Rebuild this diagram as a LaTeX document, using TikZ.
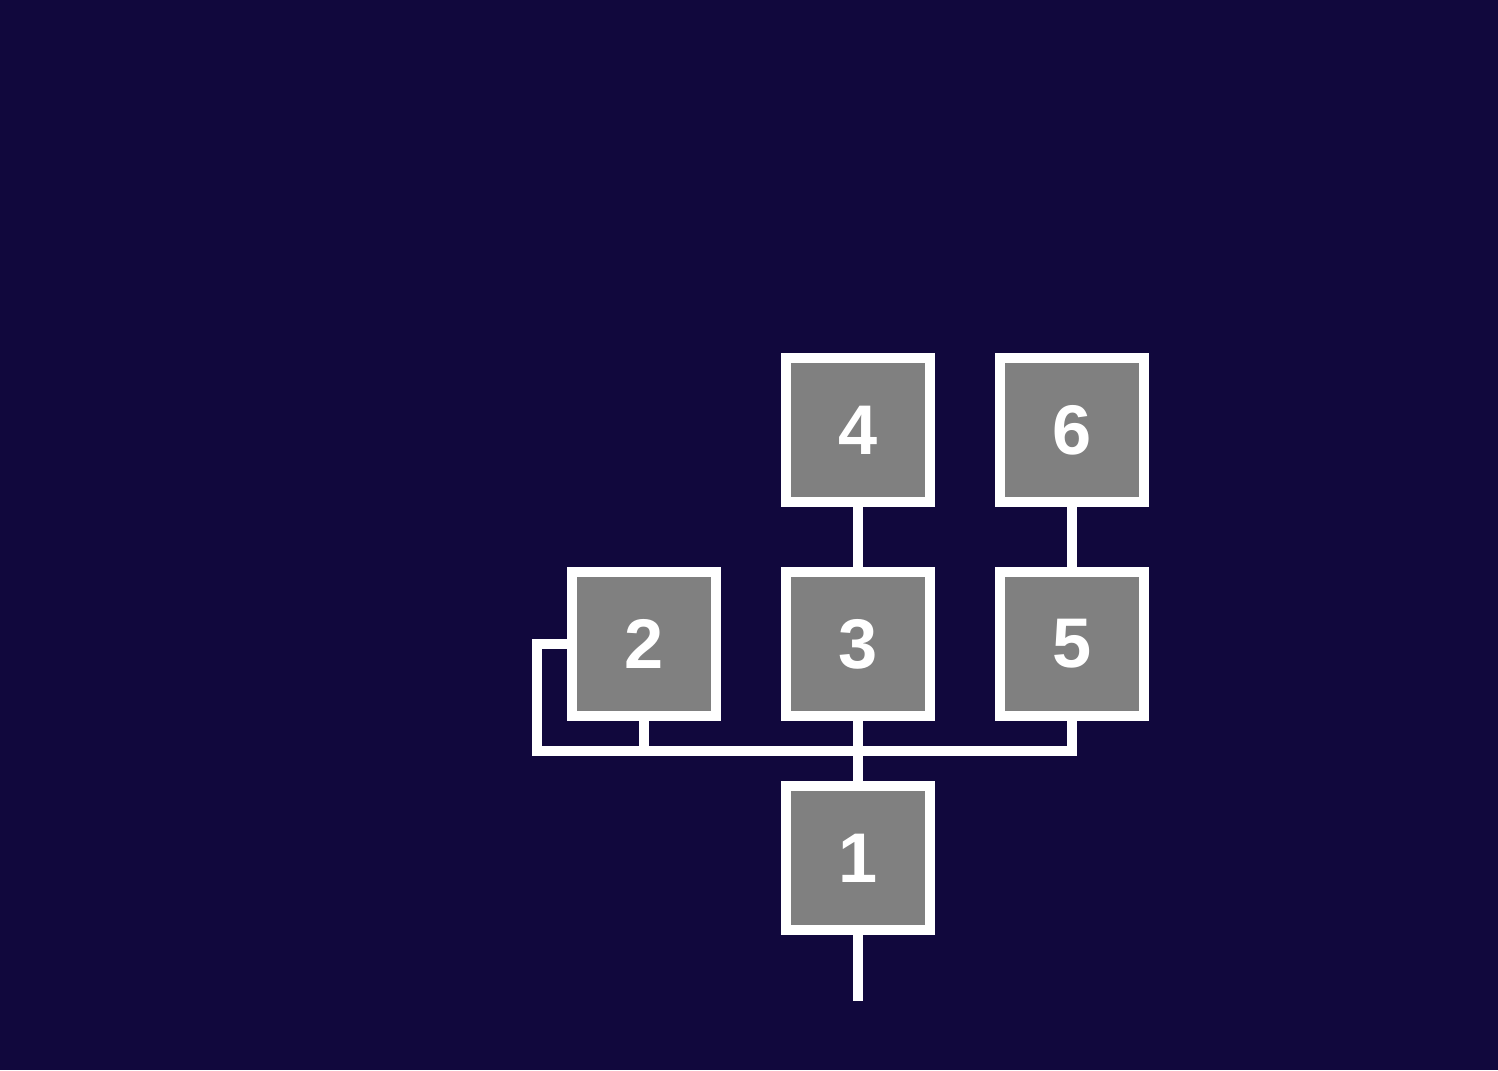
\documentclass[tikz,border=0pt]{standalone}
\usepackage{fontspec}
\newfontfamily\labelfont{Liberation Sans}
\usepackage{tikz}
\definecolor{NightBlue}{HTML}{11083D}
\definecolor{BoxGray}{HTML}{808080}

\begin{document}
\begin{tikzpicture}[
    box/.style={draw=white, fill=BoxGray, line width=2.85pt, minimum size=1.44cm,
      inner sep=0pt, text=white, font=\labelfont\bfseries\fontsize{20}{24}\selectfont},
    wire/.style={draw=white, line width=3.1pt}
  ]
  % Background and frame
  \fill[NightBlue] (0,0) rectangle (14.98,10.70);
  \useasboundingbox (0,0) rectangle (14.98,10.70);

  % Boxes
  \node[box] (n1) at (8.58, 2.12) {1};
  \node[box] (n2) at (6.44, 4.26) {2};
  \node[box] (n3) at (8.58, 4.26) {3};
  \node[box] (n4) at (8.58, 6.40) {4};
  \node[box] (n5) at (10.72, 4.26) {5};
  \node[box] (n6) at (10.72, 6.40) {6};

  % Bus under the middle row
  \coordinate (busL) at (5.37, 3.19);
  \coordinate (out) at (8.58, 0.69);

  % Connectors
  \draw[wire] (n4.south) -- (n3.north);
  \draw[wire] (n6.south) -- (n5.north);
  \draw[wire] (n3.south) -- (n1.north);
  \draw[wire] (n2.west) -| (busL) -| (n5.south);
  \draw[wire] (n2.south) -- (n2.south |- busL);
  \draw[wire] (n1.south) -- (out);
\end{tikzpicture}
\end{document}
